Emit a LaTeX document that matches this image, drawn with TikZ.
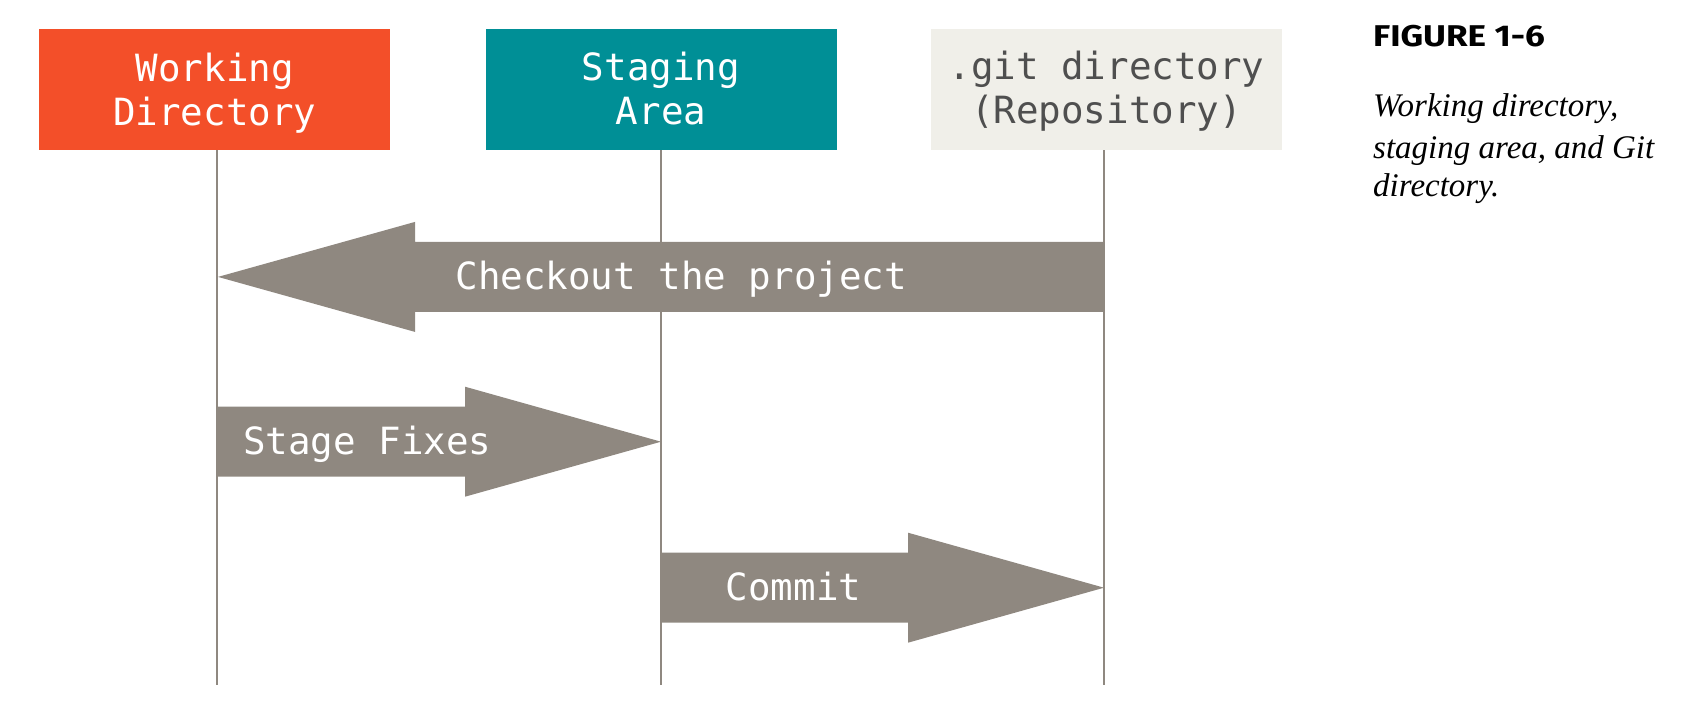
\documentclass[tikz,border=0pt]{standalone}
\usepackage{fontspec}
\usepackage{graphicx}
\setmonofont{DejaVu Sans Mono}
\newfontfamily\capfont{Liberation Serif}
\newfontfamily\figfont{Fira Sans}
\usetikzlibrary{calc}
\definecolor{wdorange}{HTML}{F34F29}
\definecolor{stteal}{HTML}{008F96}
\definecolor{gitbg}{HTML}{F0EFE9}
\definecolor{arrgray}{HTML}{8F8880}
\definecolor{gittext}{HTML}{4F4F4F}
\tikzset{
  areabox/.style={minimum width=351pt, minimum height=121pt, inner sep=0pt, outer sep=0pt},
  boxtext/.style={font=\ttfamily\fontsize{37.5}{44}\selectfont, align=center, inner sep=0pt, anchor=base},
  lifeline/.style={draw=arrgray, line width=2pt},
  blockarrow/.style={fill=arrgray, draw=none},
  arrtext/.style={font=\ttfamily\fontsize{37.5}{44}\selectfont, text=white, anchor=base west, inner sep=0pt},
  figlabel/.style={font=\figfont\bfseries\fontsize{30}{36}\selectfont, anchor=base west, inner sep=0pt},
  captext/.style={font=\capfont\itshape\fontsize{33}{40}\selectfont, anchor=base west, inner sep=0pt}
}
\begin{document}
\begin{tikzpicture}[x=1pt,y=-1pt]
\useasboundingbox (0,0) rectangle (1706,720);
% boxes
\node[areabox, fill=wdorange] (wd) at (214.75,89.65) {};
\node[areabox, fill=stteal] (st) at (661,89.65) {};
\node[areabox, fill=gitbg] (git) at (1106.5,89.65) {};
\node[boxtext, text=white] (wdt) at (214.75,125.5) {Working\\Directory};
\node[boxtext, text=white] (stt) at (661,124) {Staging\\Area};
\node[boxtext, text=gittext] (gitt) at (1106.5,123.5) {.git directory\\(Repository)};
% lifelines
\coordinate (wdtop) at (217,150);
\coordinate (wdbot) at (217,685);
\coordinate (sttop) at (661,150);
\coordinate (stbot) at (661,685);
\coordinate (gittop) at (1104,150);
\coordinate (gitbot) at (1104,685);
\draw[lifeline] (wdtop) -- (wdbot);
\draw[lifeline] (sttop) -- (stbot);
\draw[lifeline] (gittop) -- (gitbot);
% checkout arrow (leftwards)
\coordinate (coS) at (1104,276.9);
\coordinate (coT) at (218,276.9);
\fill[blockarrow] ($(coS)+(0,-35)$) -- ($(coT)+(197,-35)$) -- ($(coT)+(197,-55)$) -- (coT)
  -- ($(coT)+(197,55)$) -- ($(coT)+(197,35)$) -- ($(coS)+(0,35)$) -- cycle;
\node[arrtext] (cot) at (455.3,289.3) {Checkout the project};
% stage fixes arrow
\coordinate (sfS) at (217,441.7);
\coordinate (sfT) at (661,441.7);
\fill[blockarrow] ($(sfS)+(0,-35)$) -- ($(sfT)+(-196,-35)$) -- ($(sfT)+(-196,-55)$) -- (sfT)
  -- ($(sfT)+(-196,55)$) -- ($(sfT)+(-196,35)$) -- ($(sfS)+(0,35)$) -- cycle;
\node[arrtext] (sft) at (243,454.3) {Stage Fixes};
% commit arrow
\coordinate (cmS) at (661,587.7);
\coordinate (cmT) at (1104,587.7);
\fill[blockarrow] ($(cmS)+(0,-35)$) -- ($(cmT)+(-196,-35)$) -- ($(cmT)+(-196,-55)$) -- (cmT)
  -- ($(cmT)+(-196,55)$) -- ($(cmT)+(-196,35)$) -- ($(cmS)+(0,35)$) -- cycle;
\node[arrtext] (cmt) at (725.5,600.7) {Commit};
% caption
\node[figlabel] (fig) at (1373,46.7) {\scalebox{1.17}[1]{FIGURE 1-6}};
\node[captext] (cap1) at (1373,116.7) {Working directory,};
\node[captext] (cap2) at (1373,158) {staging area, and Git};
\node[captext] (cap3) at (1373,196.7) {directory.};
\end{tikzpicture}
\end{document}
